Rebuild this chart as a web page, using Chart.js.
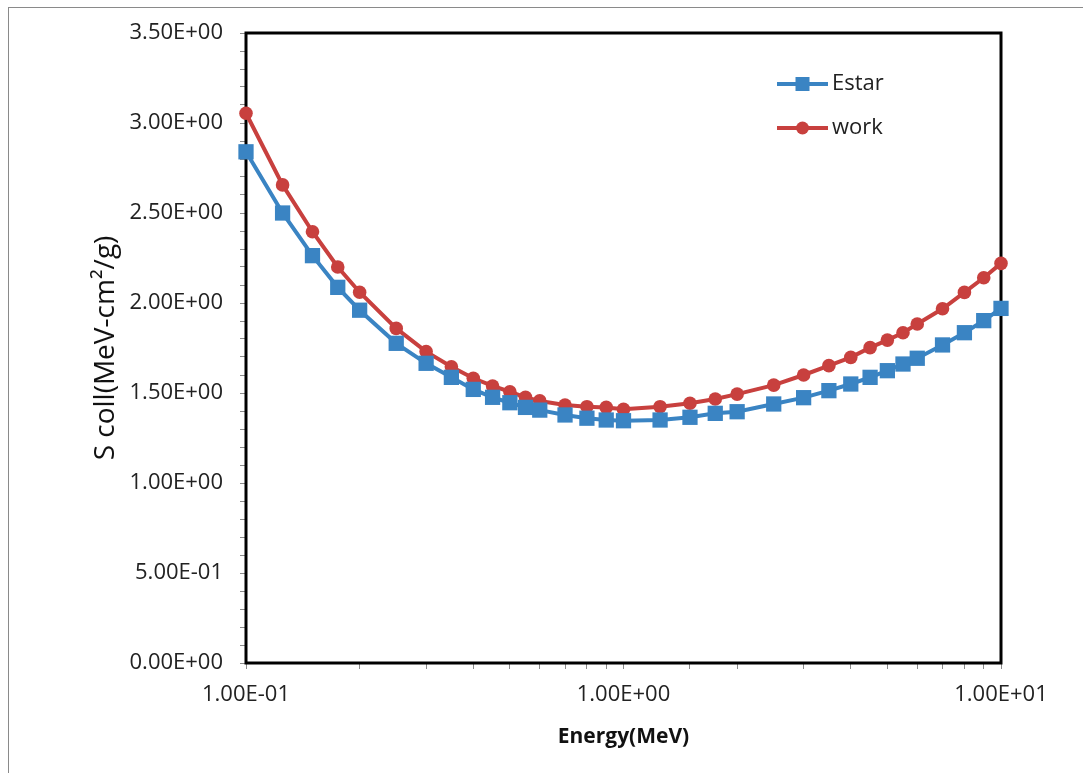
<!DOCTYPE html>
<html>
<head>
<meta charset="utf-8">
<script src="https://cdn.jsdelivr.net/npm/chart.js@4"></script>
<style>
  html, body { margin: 0; padding: 0; background: #fff; overflow: hidden; }
  #marco { position: absolute; left: 8px; top: 7px; width: 1100px; height: 800px; border: 1px solid #8a8a8a; }
  #caja { position: absolute; left: 0; top: 0; width: 1083px; height: 773px; }
</style>
</head>
<body>
<div id="marco"></div>
<div id="caja"><canvas id="graficoStopping" width="1083" height="773"></canvas></div>
<script>
// Energia (MeV)
const energias = [0.1, 0.125, 0.15, 0.175, 0.2, 0.25, 0.3, 0.35, 0.4, 0.45, 0.5, 0.55, 0.6, 0.7, 0.8, 0.9, 1.0,
    1.25, 1.5, 1.75, 2.0, 2.5, 3.0, 3.5, 4.0, 4.5, 5.0, 5.5, 6.0, 7.0, 8.0, 9.0, 10.0];

// S coll (MeV-cm2/g)
const valoresEstar = [2.84, 2.50, 2.263, 2.087, 1.96, 1.776, 1.665, 1.587, 1.52, 1.476, 1.446, 1.42, 1.405, 1.378, 1.36, 1.35, 1.346,
    1.35, 1.365, 1.387, 1.396, 1.439, 1.474, 1.513, 1.55, 1.587, 1.624, 1.661, 1.693, 1.767, 1.835, 1.902, 1.97];
const valoresWork = [3.054, 2.656, 2.396, 2.20, 2.06, 1.859, 1.73, 1.646, 1.582, 1.539, 1.507, 1.476, 1.456, 1.433, 1.424, 1.42, 1.41,
    1.424, 1.443, 1.467, 1.494, 1.544, 1.60, 1.652, 1.698, 1.752, 1.794, 1.835, 1.883, 1.968, 2.059, 2.14, 2.22];

const rotulosSeries = ["Estar", "work"];
const ticksX = [0.1, 1, 10];

// formato tipo Excel: 1.00E-01
function formatoCientifico(v) {
    const partes = v.toExponential(2).split('e');
    const exp = parseInt(partes[1], 10);
    return partes[0] + 'E' + (exp < 0 ? '-' : '+') + String(Math.abs(exp)).padStart(2, '0');
}

// Moldura preta da area do grafico + legenda
const molduraPlugin = {
    id: 'moldura',
    beforeDatasetsDraw(chart) {
        const a = chart.chartArea;
        const ctx = chart.ctx;
        ctx.save();
        ctx.strokeStyle = '#000';
        ctx.lineWidth = 3;
        ctx.strokeRect(a.left, a.top, a.right - a.left, a.bottom - a.top);
        ctx.restore();
    },
    afterDraw(chart) {
        const a = chart.chartArea;
        const ctx = chart.ctx;
        ctx.save();
        chart.data.datasets.forEach((ds, i) => {
            const y = a.top + 51 + i * 44;
            const x0 = a.right - 224;
            ctx.strokeStyle = ds.borderColor;
            ctx.lineWidth = 4;
            ctx.beginPath();
            ctx.moveTo(x0, y);
            ctx.lineTo(x0 + 51, y);
            ctx.stroke();
            ctx.fillStyle = ds.backgroundColor;
            if (ds.pointStyle === 'rect') {
                ctx.fillRect(x0 + 25.5 - 7, y - 7, 14, 14);
            } else {
                ctx.beginPath();
                ctx.arc(x0 + 25.5, y, 6.5, 0, Math.PI * 2);
                ctx.fill();
            }
            ctx.fillStyle = '#222';
            ctx.font = '22px "Open Sans"';
            ctx.textBaseline = 'middle';
            ctx.fillText(ds.label, x0 + 55, y);
        });
        ctx.restore();
    }
};

const ctx = document.getElementById("graficoStopping").getContext("2d");

window.graficoStopping = new Chart(ctx, {
    type: "line",
    data: {
        labels: energias,
        datasets: [{
            label: rotulosSeries[0],
            data: energias.map((e, i) => ({ x: e, y: valoresEstar[i] })),
            borderColor: "#3A84C3",
            backgroundColor: "#3A84C3",
            borderWidth: 4,
            pointStyle: 'rect',
            pointRadius: 10.8,
            pointBorderWidth: 0,
            tension: 0,
            clip: false
        }, {
            label: rotulosSeries[1],
            data: energias.map((e, i) => ({ x: e, y: valoresWork[i] })),
            borderColor: "#C8403E",
            backgroundColor: "#C8403E",
            borderWidth: 4,
            pointStyle: 'circle',
            pointRadius: 6.8,
            pointBorderWidth: 0,
            tension: 0,
            clip: false
        }]
    },
    options: {
        responsive: false,
        animation: false,
        layout: { padding: { left: 50, top: 33, right: 82, bottom: 10 } },
        plugins: {
            legend: { display: false },
            tooltip: { enabled: false }
        },
        scales: {
            x: {
                type: 'logarithmic',
                min: 0.1,
                max: 10,
                afterFit: s => { s.height = 100; },
                border: { display: false },
                grid: { display: true, drawOnChartArea: false, drawTicks: true, tickLength: 6, tickColor: '#8a8a8a' },
                ticks: {
                    autoSkip: false,
                    maxRotation: 0,
                    padding: 13,
                    color: '#222',
                    font: { family: '"Open Sans"', size: 22 },
                    callback: valor => ticksX.some(t => Math.abs(t - valor) < 1e-9) ? formatoCientifico(valor) : ''
                },
                title: {
                    display: true,
                    text: 'Energy(MeV)',
                    color: '#111',
                    font: { family: '"Open Sans"', size: 21, weight: 'bold' },
                    padding: { top: 0, bottom: 13 }
                }
            },
            y: {
                min: 0,
                max: 3.5,
                afterFit: s => { s.width = 196; },
                border: { display: false },
                grid: { display: true, drawOnChartArea: false, drawTicks: true, tickLength: 6, tickColor: '#8a8a8a' },
                ticks: {
                    stepSize: 0.1,
                    autoSkip: false,
                    padding: 17,
                    color: '#222',
                    font: { family: '"Open Sans"', size: 22 },
                    callback: valor => Math.abs(valor * 2 - Math.round(valor * 2)) < 1e-6 ? formatoCientifico(valor) : ''
                },
                title: {
                    display: true,
                    text: 'S coll(MeV-cm²/g)',
                    color: '#111',
                    font: { family: '"Open Sans"', size: 28 },
                    padding: { top: 39, bottom: 0 }
                }
            }
        }
    },
    plugins: [molduraPlugin]
});
</script>
</body>
</html>
